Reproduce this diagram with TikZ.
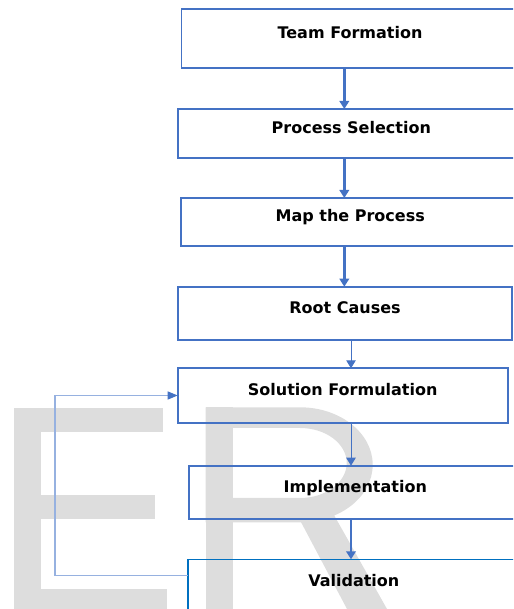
\documentclass[tikz,border=0pt]{standalone}
\usepackage{xcolor}
\usepackage{fontspec}
\setsansfont{DejaVu Sans}
\usepackage{tikz}
\usetikzlibrary{arrows.meta,positioning}
\definecolor{boxblue}{RGB}{68,114,196}
\definecolor{valblue}{RGB}{0,112,192}
\definecolor{loopblue}{RGB}{150,177,224}
\definecolor{markgray}{RGB}{221,221,221}

\begin{document}
\begin{tikzpicture}[x=1pt,y=1pt,stepbox/.style={draw=boxblue, line width=1.8pt, rectangle, outer sep=0pt, inner sep=0pt, text=black, font=\sffamily\bfseries\fontsize{16}{19}\selectfont, text height=6pt, text depth=6pt}]
        \tikzstyle{flow} = [draw=boxblue, line width=2.5pt, -{Triangle[width=9.5pt,length=8pt]}]
        \tikzstyle{thinflow} = [flow, line width=1pt]
        \tikzstyle{loopback} = [draw=loopblue, line width=1.3pt, -{Triangle[width=8pt,length=10pt,color=boxblue]}]
        \useasboundingbox (0,0) rectangle (513,609);
        \clip (0,0) rectangle (513,609);

        \fill[markgray] (14,0) rectangle (40.7,201.3);
        \fill[markgray] (14,177.3) rectangle (162.7,201.3);
        \fill[markgray] (14,90.3) rectangle (155,114);
        \fill[markgray] (14,0) rectangle (167,19.7);
        \fill[markgray] (205.7,0) rectangle (232.7,201.7);
        \fill[markgray, even odd rule] (205.7,201.7) -- (300,201.7) arc[start angle=90, end angle=-90, x radius=72.7, y radius=57.5] -- (205.7,86.7) -- cycle
            (232.7,181) -- (300,181) arc[start angle=90, end angle=-90, x radius=46.7, y radius=35] -- (232.7,111) -- cycle;
        \fill[markgray] (296.7,95) -- (333.4,95) -- (387,0) -- (347,0) -- cycle;

        \node[stepbox, minimum width=337pt, minimum height=59pt] (team) at (350,570.5) {Team Formation};
        \node[stepbox, minimum width=346.6pt, minimum height=48.7pt, below = 41pt of team, xshift=1.3pt] (select) {Process Selection};
        \node[stepbox, minimum width=338.4pt, minimum height=47.7pt, below = 40.3pt of select, xshift=-1.1pt] (map) {Map the Process};
        \node[stepbox, minimum width=334pt, minimum height=53.3pt, below = 41pt of map, xshift=-5.2pt] (root) {Root Causes};
        \node[stepbox, minimum width=330pt, minimum height=54.4pt, below = 28.3pt of root, xshift=-2.3pt] (solve) {Solution Formulation};
        \node[stepbox, minimum width=333.2pt, minimum height=53pt, below = 43pt of solve, xshift=12.6pt] (impl) {Implementation};
        \node[stepbox, draw=valblue, line width=1.3pt, minimum width=331.6pt, minimum height=53.7pt, below = 40.6pt of impl, xshift=-1.5pt] (valid) {Validation};

        \coordinate (colA) at (344.3,0);
        \coordinate (colB) at (351,0);
        \coordinate (back) at (55,0);
        \coordinate (vout) at ([yshift=-16.4pt]valid.north west);

        \draw [flow] (team.south -| colA) -- (select.north -| colA);
        \draw [flow] (select.south -| colA) -- (map.north -| colA);
        \draw [flow] (map.south -| colA) -- (root.north -| colA);
        \draw [thinflow] (root.south -| colB) -- (solve.north -| colB);
        \draw [thinflow] (solve.south -| colB) -- (impl.north -| colB);
        \draw [flow] (impl.south -| colB) -- (valid.north -| colB);
        \draw [loopback] (vout) -- (vout -| back) |- (solve.west);
\end{tikzpicture}
\end{document}
